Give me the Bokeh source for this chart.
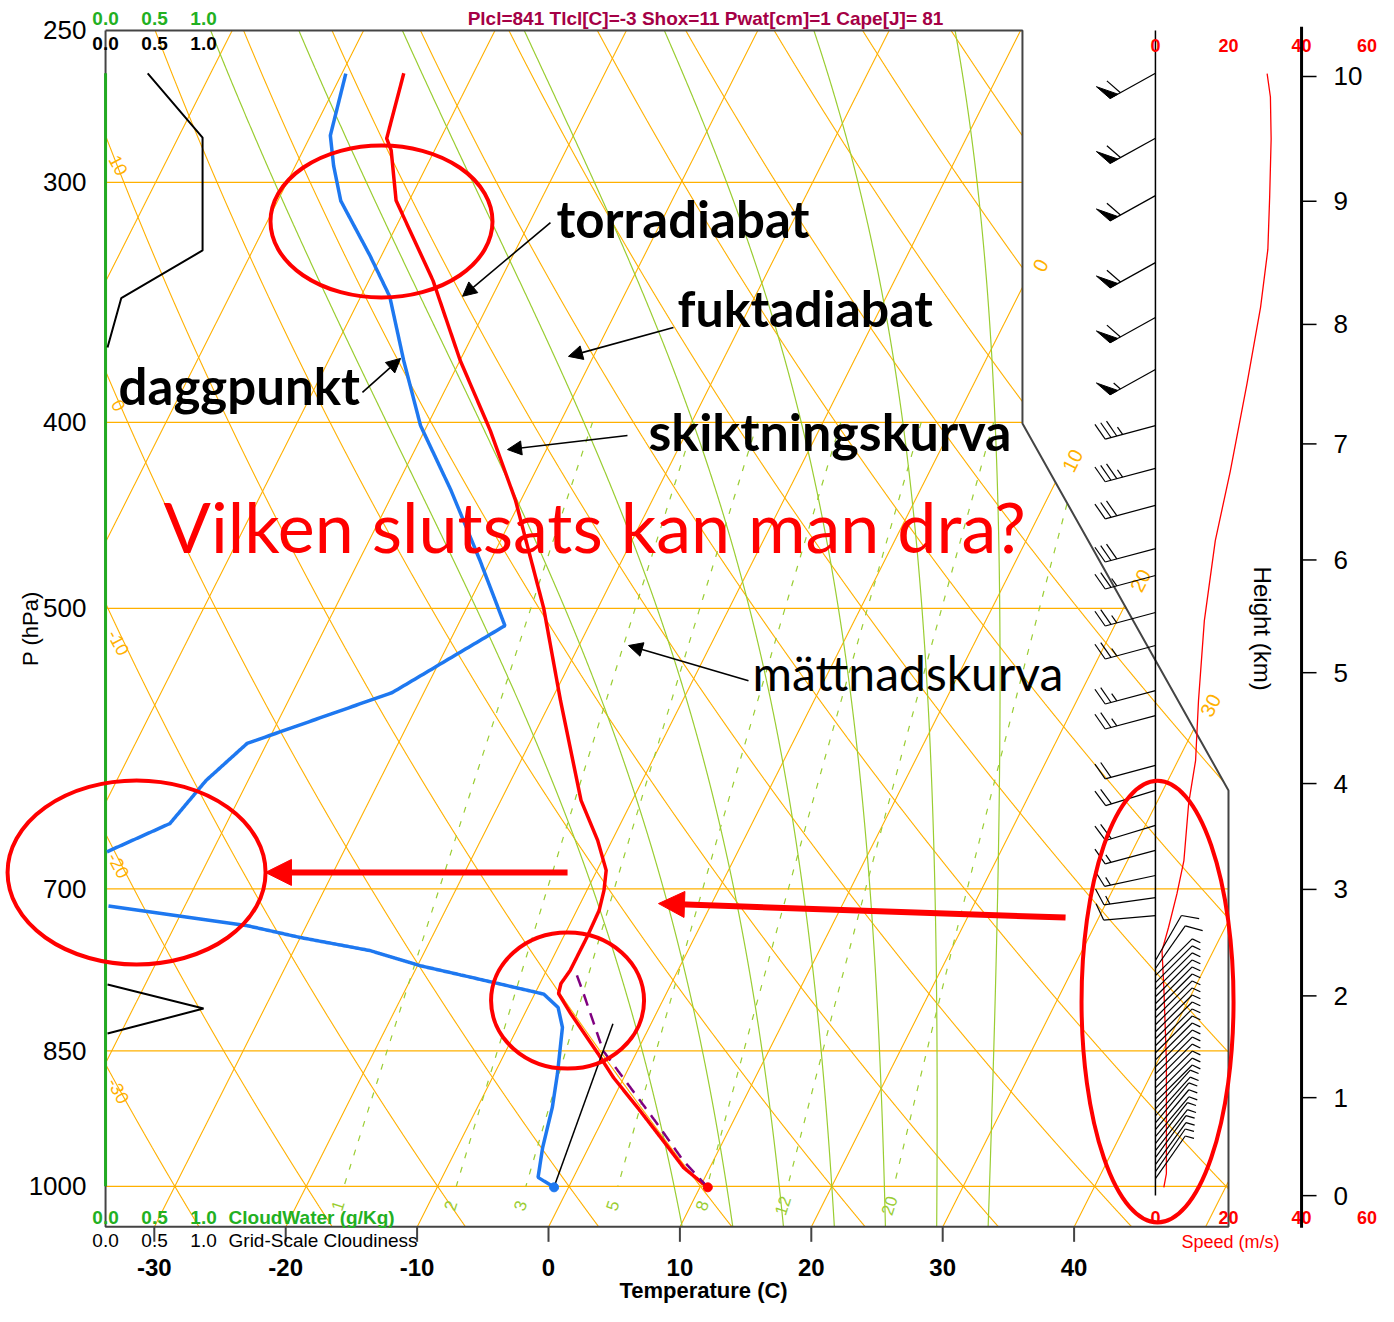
import numpy as np
from bokeh.plotting import figure
from bokeh.models import Range1d, Arrow, NormalHead
from bokeh.core.properties import value
from bokeh.embed import file_html
from bokeh.resources import INLINE

# ------------------------------------------------------------------
# DATA
# ------------------------------------------------------------------
PRESSURE_TICKS = [250, 300, 400, 500, 700, 850, 1000]
TEMP_TICKS = [-30, -20, -10, 0, 10, 20, 30, 40]
HEIGHT_KM = [0, 1, 2, 3, 4, 5, 6, 7, 8, 9, 10]
HEIGHT_P = [1011.2, 899.1, 795.8, 700.4, 616.9, 540.1, 471.8, 410.5, 355.7, 306.9, 264.2]
SPEED_TICKS = [0, 20, 40, 60]
CLOUD_TICKS = [0.0, 0.5, 1.0]

ISOTHERMS = list(range(-90, 60, 10))
DRY_THETA = list(range(-30, 130, 10))
MOIST_THW = [8, 12, 16, 20, 24, 28, 32]
MIX_RATIO = [1, 2, 3, 5, 8, 12, 20]
DRY_LABELS = ["10", "0", "-10", "-20", "-30"]
DRY_LABEL_P = [293.9, 392.0, 521.0, 680.5, 891.7]
ISO_LABELS = ["0", "10", "20", "30"]
ISO_LABEL_P = [331.4, 418.8, 483.6, 561.7]

TEMP_P = [263.2, 284.6, 288.7, 306.6, 337.6, 371.3, 404.0, 439.3, 500.1, 558.4,
          629.5, 660.4, 684.6, 701.2, 718.2, 741.6, 772.0, 784.1, 793.5, 812.9,
          852.7, 877.6, 909.9, 946.6, 977.8, 996.8, 1001.2]
TEMP_C = [-55.3, -54.1, -53.3, -51.0, -45.1, -40.0, -35.0, -30.4, -24.1, -19.3,
          -13.9, -11.1, -9.3, -8.7, -8.3, -8.2, -8.2, -8.4, -8.2, -6.5,
          -2.9, -0.8, 2.2, 5.4, 8.0, 10.1, 10.6]

DEW_P = [263.3, 283.6, 294.0, 306.7, 327.4, 344.0, 371.3, 401.6, 434.0, 472.1,
         510.5, 553.1, 587.9, 614.6, 647.2, 670.1, 693.0, 714.0, 731.3, 742.0,
         753.7, 767.5, 778.2, 794.1, 806.9, 826.5, 873.8, 909.7, 954.3, 989.3, 1001.2]
DEW_C = [-59.7, -58.5, -57.1, -55.2, -50.9, -47.8, -44.3, -40.5, -35.7, -30.8,
         -26.4, -32.4, -41.5, -43.2, -44.3, -48.1, -55.0, -46.1, -34.6, -30.0,
         -24.2, -19.8, -15.5, -9.3, -7.7, -6.6, -5.2, -4.3, -3.5, -2.7, -1.1]

PARCEL_P = [1001.2, 969.6, 927.6, 888.5, 850.0, 832.8, 793.5, 773.6]
PARCEL_C = [10.6, 7.7, 4.3, 0.9, -2.6, -3.7, -6.3, -7.7]

LCL_LINE_P = [1002.8, 822.8]
LCL_LINE_C = [-1.1, -2.9]

CLOUD_TOP_P = [263.2, 284.3, 325.5, 344.7, 365.7]
CLOUD_TOP = [0.43, 0.99, 0.99, 0.16, 0.02]
CLOUD_LOW_P = [785.0, 808.0, 832.6]
CLOUD_LOW = [0.02, 1.0, 0.02]
CLOUDWATER_P = [263.2, 1000.0]
CLOUDWATER = [0.0, 0.0]

WSPD_P = [263.3, 270.8, 284.7, 305.1, 325.1, 348.5, 381.8, 424.2, 461.0, 507.4,
          558.4, 600.1, 631.8, 676.6, 704.0, 732.9, 753.7, 787.6, 860.0, 931.7,
          984.9, 1001.2]
WSPD = [30.6, 31.5, 31.7, 31.3, 30.8, 28.8, 25.1, 20.5, 16.4, 13.4,
        11.8, 11.0, 9.1, 7.8, 5.9, 3.6, 1.8, 2.3, 3.0, 3.0,
        3.0, 2.3]

BARB_P = [263.2, 284.5, 304.8, 330.3, 352.8, 375.5,
          401.6, 422.7, 441.9, 465.4, 480.7, 502.5, 522.8, 551.8, 568.6, 603.6,
          622.0, 648.6, 668.4, 688.8, 707.3, 722.7, 762.8, 770.1,
          776.7, 783.3, 789.9, 796.6, 803.3, 810.1, 816.9, 823.8, 830.8, 837.8,
          844.8, 852.0, 859.2, 866.5, 873.8, 881.2, 888.6, 896.1, 903.6, 911.2,
          918.9, 926.6, 934.2, 942.1, 950.1, 958.1, 966.2, 974.3, 982.5, 990.8]
BARB_DIR = [241, 241, 241, 241, 241, 241,
            255, 255, 255, 255, 255, 255, 255, 255, 255, 255,
            253, 253, 255, 258, 262, 265, 30, 35,
            45, 45, 45, 45, 45, 45, 45, 45, 45, 45,
            45, 45, 45, 45, 45, 45, 45, 45, 45, 42,
            42, 40, 40, 40, 38, 38, 36, 36, 35, 35]
BARB_KT = [60, 60, 60, 60, 60, 55,
           35, 35, 30, 30, 25, 25, 25, 25, 25, 20,
           20, 20, 15, 15, 15, 10, 10, 10,
           5, 5, 5, 5, 5, 5, 5, 5, 5, 5,
           5, 5, 5, 5, 5, 5, 5, 5, 5, 5,
           5, 5, 5, 5, 5, 5, 5, 5, 5, 5]

# ------------------------------------------------------------------
# diagram geometry
# ------------------------------------------------------------------
W, H = 1378, 1306
PXC = 13.14          # px per degC
PXD = 1919.6         # px per decade of pressure
SKEW = 73.7          # degC per decade
PREF = 1050.0
X_LEFT, X_RT, X_RB = -33.71, 36.07, 51.75
P_TOP, P_BOT, P_C1, P_C2 = 250.0, 1049.5, 400.6, 622.0
X_START, X_END = -41.705, 63.166
P_FIGTOP, P_FIGBOT = 241.2, 1155.0
SPD0 = 46.19
SPD_SCALE = (73.0 / 20.0) / PXC   # X units per m/s
HGT_X = 57.31
CLOUD_SCALE = 98.0 / PXC

ORANGE = "#FFB000"
GREEN = "#9ACD32"
FRAME = "#444444"


def skx(T, p):
    return np.asarray(T, float) + SKEW * np.log10(PREF / np.asarray(p, float))


def right_edge(p):
    p = np.asarray(p, float)
    f = np.clip(np.log(p / P_C1) / np.log(P_C2 / P_C1), 0, 1)
    return X_RT + (X_RB - X_RT) * f


def inside(X, p):
    return (X >= X_LEFT) & (X <= right_edge(p)) & (p >= P_TOP - 1e-6) & (p <= P_BOT + 1e-6)


def runs(X, P, mask):
    xs, ys = [], []
    idx = np.flatnonzero(mask)
    if len(idx) == 0:
        return xs, ys
    br = np.where(np.diff(idx) > 1)[0]
    st = np.r_[0, br + 1]
    en = np.r_[br, len(idx) - 1]
    for s, e in zip(st, en):
        sel = idx[s:e + 1]
        if len(sel) >= 2:
            xs.append(list(X[sel]))
            ys.append(list(P[sel]))
    return xs, ys


def densify(X, P, n=40):
    X = np.asarray(X, float)
    lp = np.log10(np.asarray(P, float))
    ox, op = [], []
    for i in range(len(X) - 1):
        t = np.linspace(0, 1, n, endpoint=False)
        ox.append(X[i] + (X[i + 1] - X[i]) * t)
        op.append(lp[i] + (lp[i + 1] - lp[i]) * t)
    ox.append([X[-1]])
    op.append([lp[-1]])
    return np.concatenate(ox), 10 ** np.concatenate(op)


def off(Xb, pb, dx, dy_up):
    return Xb + dx / PXC, pb * 10 ** (-dy_up / PXD)


# moist adiabats
RD, CP, LV, EPS = 287.04, 1005.7, 2.501e6, 0.622


def es(T):
    return 6.112 * np.exp(17.67 * (T - 273.15) / (T - 29.65))


def dTdp(T, p):
    e = es(T)
    rs = EPS * e / (p - e)
    return (RD * T + LV * rs) / (p * (CP + LV * LV * rs * EPS / (RD * T * T)))


def integrate(T0, p0, p1, n):
    ps = np.linspace(p0, p1, n + 1)
    h = ps[1] - ps[0]
    out = [T0]
    T = T0
    for i in range(n):
        pp = ps[i]
        k1 = dTdp(T, pp)
        k2 = dTdp(T + h / 2 * k1, pp + h / 2)
        k3 = dTdp(T + h / 2 * k2, pp + h / 2)
        k4 = dTdp(T + h * k3, pp + h)
        T = T + h / 6 * (k1 + 2 * k2 + 2 * k3 + k4)
        out.append(T)
    return ps, np.array(out)


# ------------------------------------------------------------------
p = figure(width=W, height=H, x_range=Range1d(X_START, X_END),
           y_range=Range1d(P_FIGBOT, P_FIGTOP), y_axis_type="log",
           x_axis_location=None, y_axis_location=None,
           toolbar_location=None, output_backend="svg",
           min_border=0, min_border_left=0, min_border_right=0,
           min_border_top=0, min_border_bottom=0)
p.outline_line_color = None
p.grid.visible = False
p.background_fill_color = "white"
p.border_fill_color = "white"


def txt(x, y, s, size, color="black", font="Liberation Sans", style="normal",
        align="left", baseline="middle", angle=0.0):
    p.text(x=[x], y=[y], text=[s], text_font=value(font), text_font_size=value(size),
           text_font_style=style, text_color=color, text_align=align,
           text_baseline=baseline, angle=angle)


PS = np.geomspace(P_TOP, P_BOT, 1800)

# isobars
for pr in PRESSURE_TICKS[1:]:
    p.line([X_LEFT, float(right_edge(pr))], [pr, pr], line_color=ORANGE, line_width=1.3)

# isotherms + dry adiabats
mx, my = [], []
for T in ISOTHERMS:
    X = skx(np.full_like(PS, T), PS)
    a, b = runs(X, PS, inside(X, PS))
    mx += a; my += b
for th in DRY_THETA:
    T = (th + 273.15) * (PS / 1000.0) ** 0.2857 - 273.15
    X = skx(T, PS)
    a, b = runs(X, PS, inside(X, PS))
    mx += a; my += b
p.multi_line(mx, my, line_color=ORANGE, line_width=1.1)

# mixing ratio lines (1000 -> 400 hPa)
PM = np.geomspace(400, 1000, 600)
gx, gy = [], []
for w in MIX_RATIO:
    e = w * PM / (622.0 + w)
    le = np.log(e / 6.112)
    Td = 243.5 * le / (17.67 - le)
    X = skx(Td, PM)
    a, b = runs(X, PM, inside(X, PM))
    gx += a; gy += b
    pl = 1023.4
    el = w * pl / (622.0 + w)
    lel = np.log(el / 6.112)
    Tl = 243.5 * lel / (17.67 - lel)
    xl = float(skx(Tl, pl))
    txt(xl, pl, str(w), "17px", color=GREEN, align="center", angle=np.radians(72))
p.multi_line(gx, gy, line_color=GREEN, line_width=1.2, line_dash="6 9")

# moist adiabats
hx, hy = [], []
for thw in MOIST_THW:
    pu, Tu = integrate(thw + 273.15, 1000.0, P_TOP, 1500)
    pdn, Tdn = integrate(thw + 273.15, 1000.0, P_BOT, 100)
    pp = np.r_[pdn[::-1], pu[1:]]
    TT = np.r_[Tdn[::-1], Tu[1:]] - 273.15
    X = skx(TT, pp)
    a, b = runs(X, pp, inside(X, pp))
    hx += a; hy += b
p.multi_line(hx, hy, line_color=GREEN, line_width=1.2)

# frame
p.line([X_LEFT, X_RT, X_RT, X_RB, X_RB, X_LEFT, X_LEFT],
       [P_TOP, P_TOP, P_C1, P_C2, P_BOT, P_BOT, P_TOP], line_color=FRAME, line_width=2)

# temperature ticks and labels
tick_p2 = 1068.8
p.multi_line([[t, t] for t in TEMP_TICKS], [[P_BOT, tick_p2]] * len(TEMP_TICKS),
             line_color=FRAME, line_width=2)
for t in TEMP_TICKS:
    txt(t, 1102.4, str(t), "24px", style="bold", align="center")
txt(11.8, 1133.3, "Temperature (C)", "22px", style="bold", align="center")

# pressure labels
for pr in PRESSURE_TICKS:
    txt(-35.16, pr, str(pr), "26px", align="right")
txt(-39.42, 512.3, "P (hPa)", "22px", align="center", angle=np.pi / 2)

# orange labels
for s, pr in zip(DRY_LABELS, DRY_LABEL_P):
    txt(-32.72, pr, s, "18px", color=ORANGE, align="center", angle=np.radians(-62))
ISO_LABEL_X = [37.44, 39.88, 45.05, 50.38]
for s, pr, xx in zip(ISO_LABELS, ISO_LABEL_P, ISO_LABEL_X):
    txt(xx, pr, s, "20px", color=ORANGE, align="center", angle=np.radians(63))

# cloud water / cloudiness
p.line([X_LEFT + v * CLOUD_SCALE for v in CLOUDWATER], CLOUDWATER_P,
       line_color="#22AA22", line_width=3)
p.line([X_LEFT + v * CLOUD_SCALE for v in CLOUD_TOP], CLOUD_TOP_P, line_color="black", line_width=2)
p.line([X_LEFT + v * CLOUD_SCALE for v in CLOUD_LOW], CLOUD_LOW_P, line_color="black", line_width=2)
for v in CLOUD_TICKS:
    xx = X_LEFT + v * CLOUD_SCALE
    txt(xx, 246.4, f"{v:.1f}", "19px", color="#22B022", style="bold", align="center")
    txt(xx, 253.9, f"{v:.1f}", "19px", style="bold", align="center")
    txt(xx, 1038.3, f"{v:.1f}", "19px", color="#22B022", style="bold", align="center")
    txt(xx, 1067.3, f"{v:.1f}", "19px", align="center")
txt(-24.35, 1038.3, "CloudWater (g/Kg)", "19px", color="#22B022", style="bold")
txt(-24.35, 1067.3, "Grid-Scale Cloudiness", "19px")

# header
txt(11.95, 246.4, "Plcl=841 Tlcl[C]=-3 Shox=11 Pwat[cm]=1 Cape[J]= 81", "19px",
    color="#A50045", style="bold", align="center")

# profiles
def draw_profile(T, P, **kw):
    X, PP = densify(skx(T, P), P)
    a, b = runs(X, PP, X >= X_LEFT)
    p.multi_line(a, b, **kw)

draw_profile(DEW_C, DEW_P, line_color="#1E78F0", line_width=3.5)
draw_profile(TEMP_C, TEMP_P, line_color="#FF0000", line_width=3.5)
draw_profile(PARCEL_C, PARCEL_P, line_color="#800080", line_width=2.5, line_dash="12 8")
p.line(list(skx(LCL_LINE_C, LCL_LINE_P)), LCL_LINE_P, line_color="black", line_width=1.5)
p.scatter([float(skx(TEMP_C[-1], TEMP_P[-1]))], [TEMP_P[-1]], size=9, color="#FF0000")
p.scatter([float(skx(DEW_C[-1], DEW_P[-1]))], [DEW_P[-1]], size=9, color="#1E78F0")

# wind panel
p.line([SPD0, SPD0], [P_TOP, 1011.0], line_color="black", line_width=1.5)
p.line([SPD0 + s * SPD_SCALE for s in WSPD], WSPD_P, line_color="#FF0000", line_width=1.3)
for s in SPEED_TICKS:
    xx = SPD0 + s * SPD_SCALE
    al = "center"
    if s == SPEED_TICKS[-1]:
        xx, al = 63.05, "right"
    txt(xx, 254.5, str(s), "18px", color="#FF0000", style="bold", align=al)
    txt(xx, 1038.3, str(s), "18px", color="#FF0000", style="bold", align=al)
txt(51.9, 1068.8, "Speed (m/s)", "18px", color="#FF0000", align="center")

# wind barbs
bx, by, tx, ty = [], [], [], []
for pb, d, kt in zip(BARB_P, BARB_DIR, BARB_KT):
    sx, sy = np.sin(np.radians(d)), np.cos(np.radians(d))
    qx, qy = sy, -sx
    fx, fy = qx * 0.94 + sx * 0.34, qy * 0.94 + sy * 0.34
    L = 52.0
    x1, y1 = off(SPD0, pb, L * sx, L * sy)
    bx.append([SPD0, x1]); by.append([pb, y1])
    pos = L
    n50 = int(kt // 50)
    rem = kt - 50 * n50
    n10 = int(rem // 10)
    n5 = 1 if rem - 10 * n10 >= 5 else 0
    for _ in range(n50):
        pa = off(SPD0, pb, pos * sx, pos * sy)
        pc = off(SPD0, pb, (pos - 9) * sx, (pos - 9) * sy)
        pe = off(SPD0, pb, pos * sx + 18 * fx, pos * sy + 18 * fy)
        tx.append([pa[0], pe[0], pc[0]]); ty.append([pa[1], pe[1], pc[1]])
        pos -= 12
    for _ in range(n10):
        a0 = off(SPD0, pb, pos * sx, pos * sy)
        a1 = off(SPD0, pb, pos * sx + 18 * fx, pos * sy + 18 * fy)
        bx.append([a0[0], a1[0]]); by.append([a0[1], a1[1]])
        pos -= 6
    if n5:
        a0 = off(SPD0, pb, pos * sx, pos * sy)
        a1 = off(SPD0, pb, pos * sx + 9 * fx, pos * sy + 9 * fy)
        bx.append([a0[0], a1[0]]); by.append([a0[1], a1[1]])
p.multi_line(bx, by, line_color="black", line_width=1.2)
p.patches(tx, ty, fill_color="black", line_color="black")

# height axis
p.line([HGT_X, HGT_X], [248.9, 1050.8], line_color="black", line_width=3)
p.multi_line([[HGT_X, 58.45]] * len(HEIGHT_P), [[h, h] for h in HEIGHT_P],
             line_color="black", line_width=1.5)
for k, hp in zip(HEIGHT_KM, HEIGHT_P):
    txt(59.74, hp, str(k), "26px")
txt(54.34, 512.3, "Height (km)", "24px", align="center", angle=-np.pi / 2)

# ------------------------------------------------------------------
# slide annotations
# ------------------------------------------------------------------
ELL_X = [-12.71, -31.35, 1.45, 46.35]
ELL_P = [314.4, 686.3, 800.3, 801.3]
ELL_W = [222, 258, 153, 152]
ELL_H = [152, 184, 136, 442]
p.ellipse(x=ELL_X, y=ELL_P, width=ELL_W, height=ELL_H, width_units="screen",
          height_units="screen", fill_alpha=0, line_color="#FF0000", line_width=4)

for (x0, y0, x1, y1) in [(0.15, 314.8, -6.54, 343.9), (9.51, 357.0, 1.52, 369.6),
                         (-14.16, 385.9, -11.26, 370.5), (6.01, 406.4, -3.12, 413.3),
                         (15.22, 545.3, 6.09, 522.8)]:
    p.add_layout(Arrow(end=NormalHead(size=14, fill_color="black", line_color="black"),
                       x_start=x0, y_start=y0, x_end=x1, y_end=y1,
                       line_color="black", line_width=1.6))
for (x0, y0, x1, y1) in [(1.45, 686.3, -21.54, 686.3), (39.35, 724.5, 8.37, 712.4)]:
    p.add_layout(Arrow(end=NormalHead(size=26, fill_color="#FF0000", line_color="#FF0000"),
                       x_start=x0, y_start=y0, x_end=x1, y_end=y1,
                       line_color="#FF0000", line_width=6))

txt(0.61, 313.2, "torradiabat", "51px", font="Lato", style="bold")
txt(9.82, 348.9, "fuktadiabat", "50px", font="Lato", style="bold")
txt(-32.72, 382.7, "daggpunkt", "51px", font="Lato", style="bold")
txt(7.61, 404.0, "skiktningskurva", "52px", font="Lato", style="bold")
txt(-29.30, 452.8, "Vilken slutsats kan man dra?", "70px", color="#FF0000", font="Lato")
txt(15.53, 540.1, "mättnadskurva", "48px", font="Lato")

open("out.html", "w").write(file_html(p, INLINE))
